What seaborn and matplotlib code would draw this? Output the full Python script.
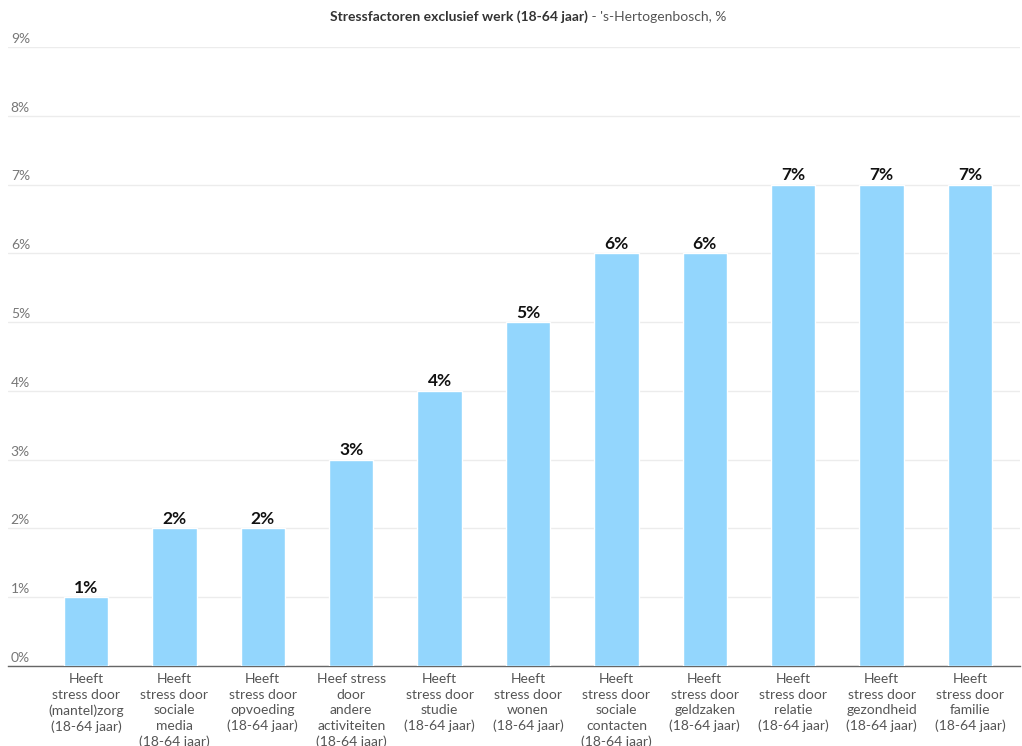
import matplotlib
matplotlib.use("Agg")
import matplotlib.pyplot as plt
import matplotlib.transforms as mtrans
import seaborn as sns
import pandas as pd

categories = [
    "Heeft\nstress door\n(mantel)zorg\n(18-64 jaar)",
    "Heeft\nstress door\nsociale\nmedia\n(18-64 jaar)",
    "Heeft\nstress door\nopvoeding\n(18-64 jaar)",
    "Heef stress\ndoor\nandere\nactiviteiten\n(18-64 jaar)",
    "Heeft\nstress door\nstudie\n(18-64 jaar)",
    "Heeft\nstress door\nwonen\n(18-64 jaar)",
    "Heeft\nstress door\nsociale\ncontacten\n(18-64 jaar)",
    "Heeft\nstress door\ngeldzaken\n(18-64 jaar)",
    "Heeft\nstress door\nrelatie\n(18-64 jaar)",
    "Heeft\nstress door\ngezondheid\n(18-64 jaar)",
    "Heeft\nstress door\nfamilie\n(18-64 jaar)",
]
values = [1, 2, 2, 3, 4, 5, 6, 6, 7, 7, 7]
y_ticks = [0, 1, 2, 3, 4, 5, 6, 7, 8, 9]
y_tick_labels = ["0%", "1%", "2%", "3%", "4%", "5%", "6%", "7%", "8%", "9%"]
title_bold = "Stressfactoren exclusief werk (18-64 jaar)"
title_normal = " - 's-Hertogenbosch, %"

sns.set_theme(style="white")
plt.rcParams["font.family"] = ["Lato", "DejaVu Sans"]

W, H = 1022, 746
fig = plt.figure(figsize=(W / 100, H / 100), dpi=100)
ax_left, ax_right = 8, 1020
ax_top, ax_bottom = 47, 666
ax = fig.add_axes([ax_left / W, 1 - ax_bottom / H, (ax_right - ax_left) / W, (ax_bottom - ax_top) / H])

df = pd.DataFrame({"cat": categories, "val": values})
sns.barplot(data=df, x="cat", y="val", color="#93d6fd", saturation=1, width=0.5, ax=ax, zorder=3)

step = (970 - 86) / 10
ax.set_xlim((ax_left - 86) / step, (ax_right - 86) / step)
ax.set_ylim(0, 9)

ax.set_yticks(y_ticks)
ax.set_yticklabels([])
ax.tick_params(axis="y", length=0)
ax.yaxis.grid(True, color="#ececec", linewidth=1, zorder=0)
ax.xaxis.grid(False)
for s in ["top", "right", "left"]:
    ax.spines[s].set_visible(False)
ax.spines["bottom"].set_color("#666666")
ax.spines["bottom"].set_linewidth(1)

trans = mtrans.blended_transform_factory(ax.transAxes, ax.transData)
for t, lab in zip(y_ticks, y_tick_labels):
    ax.annotate(lab, xy=(0, t), xycoords=trans, xytext=(2, 1.5), textcoords="offset points",
                ha="left", va="bottom", fontsize=10, color="#777777")

ax.set_xlabel("")
ax.set_ylabel("")
ax.tick_params(axis="x", length=0, pad=5)
for lbl in ax.get_xticklabels():
    lbl.set_fontsize(10)
    lbl.set_color("#555555")
    lbl.set_linespacing(1.36)
    lbl.set_va("top")

for i, v in enumerate(values):
    ax.annotate(f"{v}%", xy=(i, v), xytext=(0, 1), textcoords="offset points",
                ha="center", va="bottom", fontsize=12.5, fontweight="bold", color="#111111")

fig.text(588 / W, 1 - 17 / H, title_bold, ha="right", va="center", fontsize=10,
         fontweight="bold", color="#333333")
fig.text(588 / W, 1 - 17 / H, title_normal, ha="left", va="center", fontsize=10,
         color="#555555")

fig.savefig("out.png", dpi=100, facecolor="white")
